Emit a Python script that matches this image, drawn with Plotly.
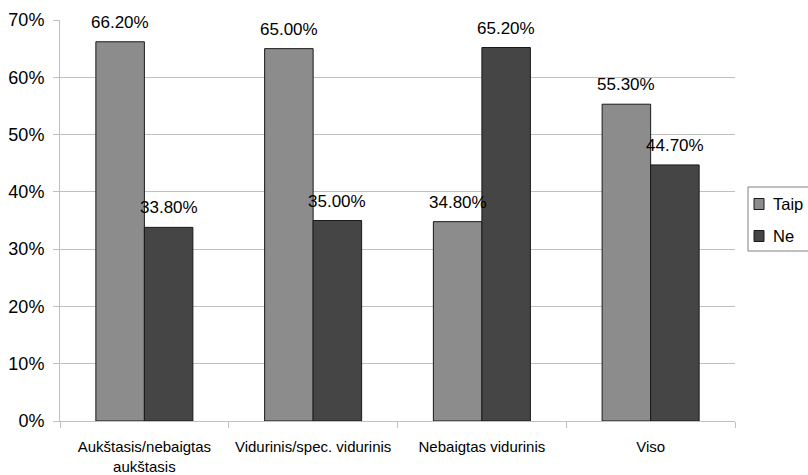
import plotly.graph_objects as go

# Education level categories and answer shares (%)
categories = ["Aukštasis/nebaigtas<br>aukštasis", "Vidurinis/spec. vidurinis",
              "Nebaigtas vidurinis", "Viso"]
taip = [66.2, 65.0, 34.8, 55.3]
ne = [33.8, 35.0, 65.2, 44.7]
series_names = ["Taip", "Ne"]
series_colors = ["#8c8c8c", "#454545"]
y_ticks = [0, 10, 20, 30, 40, 50, 60, 70]

FONT = "Liberation Sans, Arial, sans-serif"
EDGE = "#1a1a1a"

fig = go.Figure()
for name, vals, col in zip(series_names, [taip, ne], series_colors):
    fig.add_trace(go.Bar(
        x=categories, y=vals, name=name,
        marker=dict(color=col, line=dict(color=EDGE, width=1)),
    ))

# Value labels above each bar
half = 0.5 * (1 - 0.425) / 2  # half of a single bar's share of a category
for k, vals in enumerate([taip, ne]):
    for i, v in enumerate(vals):
        fig.add_annotation(
            x=i + (-half if k == 0 else half), y=v, xref="x", yref="y",
            text=f"{v:.2f}%", showarrow=False, yanchor="bottom", yshift=8,
            font=dict(family=FONT, size=17, color="#000000"),
        )

# Compact legend box just right of the plot area (675 x 401 px)
PW, PH = 675.0, 401.0


def px(dx):
    """Horizontal paper coordinate for an offset (px) past the plot's right edge."""
    return (PW + dx) / PW


fig.add_shape(type="rect", xref="paper", yref="paper",
              x0=px(13), x1=px(80), y0=170 / PH, y1=234 / PH,
              line=dict(color="#808080", width=1), fillcolor="white",
              layer="above")
for k, (name, col) in enumerate(zip(series_names, series_colors)):
    yc = (217 - 32 * k) / PH
    fig.add_shape(type="rect", xref="paper", yref="paper",
                  x0=px(19), x1=px(29), y0=yc - 5.5 / PH, y1=yc + 5.5 / PH,
                  line=dict(color=EDGE, width=1), fillcolor=col,
                  layer="above")
    fig.add_annotation(x=px(36), y=yc, xref="paper", yref="paper",
                       text=name, showarrow=False, xanchor="left",
                       yanchor="middle",
                       font=dict(family=FONT, size=16.5, color="#000000"))

fig.update_layout(
    width=808, height=475,
    margin=dict(l=60, r=73, t=20, b=54, autoexpand=False),
    paper_bgcolor="white", plot_bgcolor="white",
    barmode="group", bargap=0.425, bargroupgap=0,
    font=dict(family=FONT, color="#000000"),
    showlegend=False,
)
fig.update_xaxes(
    type="category", tickson="boundaries", ticks="outside", ticklen=6,
    tickcolor="#c0c0c0", showline=True, linecolor="#c0c0c0", linewidth=1,
    showgrid=False, tickfont=dict(family=FONT, size=15),
    tickangle=0, automargin=False, ticklabelstandoff=12,
)
fig.update_yaxes(
    range=[0, 70], tickvals=y_ticks, ticktext=[f"{t}%" for t in y_ticks],
    ticks="outside", ticklen=6, tickcolor="#c0c0c0",
    showline=True, linecolor="#c0c0c0", linewidth=1,
    showgrid=True, gridcolor="#c0c0c0", gridwidth=1, zeroline=False,
    tickfont=dict(family=FONT, size=18), ticklabelstandoff=5,
    automargin=False,
)

fig.write_html("out.html")
